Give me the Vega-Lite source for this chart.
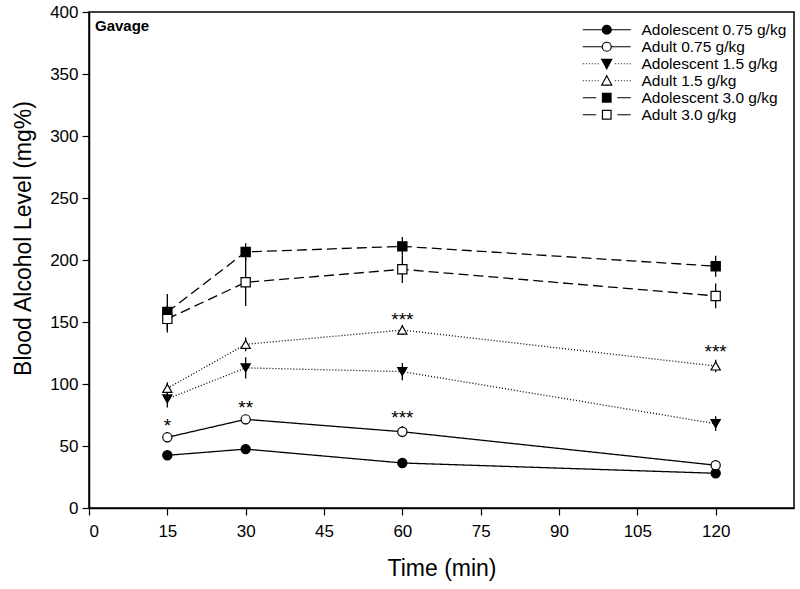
{
  "$schema": "https://vega.github.io/schema/vega-lite/v6.json",
  "width": 705,
  "height": 496,
  "autosize": {"type": "none"},
  "padding": {"left": 89, "top": 12, "right": 6, "bottom": 81},
  "background": "white",
  "config": {
    "font": "Liberation Sans",
    "view": {"stroke": "black", "strokeWidth": 1.5},
    "axis": {"grid": false, "domainColor": "black", "domainWidth": 1.5, "tickColor": "black", "tickWidth": 1.2, "tickSize": 7, "labelColor": "black", "titleColor": "black", "labelFont": "Liberation Sans", "titleFont": "Liberation Sans", "labelFontSize": 17, "titleFontSize": 23, "titleFontWeight": "normal"}
  },
  "title": {"text": "Gavage", "anchor": "start", "orient": "top", "frame": "group", "offset": -43, "dx": 6, "baseline": "alphabetic", "fontSize": 15, "fontWeight": "bold", "color": "black", "font": "Liberation Sans"},
  "datasets": {
    "bal": [
      {"series": "Adolescent 0.75 g/kg", "time": 15, "bal": 42.5, "sem": 1.2},
      {"series": "Adolescent 0.75 g/kg", "time": 30, "bal": 47.5, "sem": 1.5},
      {"series": "Adolescent 0.75 g/kg", "time": 60, "bal": 36.3, "sem": 1.5},
      {"series": "Adolescent 0.75 g/kg", "time": 120, "bal": 28, "sem": 1.2},
      {"series": "Adult 0.75 g/kg", "time": 15, "bal": 57, "sem": 4},
      {"series": "Adult 0.75 g/kg", "time": 30, "bal": 71.5, "sem": 4},
      {"series": "Adult 0.75 g/kg", "time": 60, "bal": 61.5, "sem": 4.5},
      {"series": "Adult 0.75 g/kg", "time": 120, "bal": 34.5, "sem": 1.5},
      {"series": "Adolescent 1.5 g/kg", "time": 15, "bal": 88, "sem": 7},
      {"series": "Adolescent 1.5 g/kg", "time": 30, "bal": 113, "sem": 8.5},
      {"series": "Adolescent 1.5 g/kg", "time": 60, "bal": 110, "sem": 7},
      {"series": "Adolescent 1.5 g/kg", "time": 120, "bal": 68, "sem": 6},
      {"series": "Adult 1.5 g/kg", "time": 15, "bal": 96.5, "sem": 5},
      {"series": "Adult 1.5 g/kg", "time": 30, "bal": 132, "sem": 5.5},
      {"series": "Adult 1.5 g/kg", "time": 60, "bal": 143.5, "sem": 4},
      {"series": "Adult 1.5 g/kg", "time": 120, "bal": 114.5, "sem": 5},
      {"series": "Adolescent 3.0 g/kg", "time": 15, "bal": 158, "sem": 14.5},
      {"series": "Adolescent 3.0 g/kg", "time": 30, "bal": 206.5, "sem": 7},
      {"series": "Adolescent 3.0 g/kg", "time": 60, "bal": 211, "sem": 7.5},
      {"series": "Adolescent 3.0 g/kg", "time": 120, "bal": 195, "sem": 8.5},
      {"series": "Adult 3.0 g/kg", "time": 15, "bal": 152.5, "sem": 11},
      {"series": "Adult 3.0 g/kg", "time": 30, "bal": 182, "sem": 19},
      {"series": "Adult 3.0 g/kg", "time": 60, "bal": 192.5, "sem": 11},
      {"series": "Adult 3.0 g/kg", "time": 120, "bal": 171, "sem": 10}
    ],
    "stars": [
      {"time": 15, "bal": 68.5, "label": "*"},
      {"time": 30, "bal": 83, "label": "**"},
      {"time": 60, "bal": 75, "label": "***"},
      {"time": 60, "bal": 154, "label": "***"},
      {"time": 120, "bal": 128, "label": "***"}
    ]
  },
  "layer": [
    {
      "data": {"name": "bal"},
      "mark": {"type": "line", "color": "black", "strokeWidth": 1.3},
      "encoding": {
        "x": {"field": "time", "type": "quantitative", "title": "Time (min)", "scale": {"domain": [0, 135], "nice": false}, "axis": {"values": [0, 15, 30, 45, 60, 75, 90, 105, 120], "title": "Time (min)", "titlePadding": 18, "labelPadding": 8}},
        "y": {"field": "bal", "type": "quantitative", "title": "Blood Alcohol Level (mg%)", "scale": {"domain": [0, 400], "nice": false}, "axis": {"values": [0, 50, 100, 150, 200, 250, 300, 350, 400], "title": "Blood Alcohol Level (mg%)", "titlePadding": 14, "labelPadding": 4, "titleY": 226}},
        "detail": {"field": "series"},
        "strokeDash": {"field": "series", "type": "nominal", "legend": null,
          "scale": {"domain": ["Adolescent 0.75 g/kg", "Adult 0.75 g/kg", "Adolescent 1.5 g/kg", "Adult 1.5 g/kg", "Adolescent 3.0 g/kg", "Adult 3.0 g/kg"],
                    "range": [[1, 0], [1, 0], [1, 2], [1, 2], [10, 5], [10, 5]]}}
      }
    },
    {
      "data": {"name": "bal"},
      "mark": {"type": "errorbar", "color": "black", "thickness": 1.3},
      "encoding": {
        "x": {"field": "time", "type": "quantitative", "title": "Time (min)"},
        "y": {"field": "bal", "type": "quantitative", "title": "Blood Alcohol Level (mg%)"},
        "yError": {"field": "sem"}
      }
    },
    {
      "data": {"name": "bal"},
      "mark": {"type": "point", "stroke": "black", "strokeWidth": 1.2, "size": 85, "opacity": 1},
      "encoding": {
        "x": {"field": "time", "type": "quantitative", "title": "Time (min)"},
        "y": {"field": "bal", "type": "quantitative", "title": "Blood Alcohol Level (mg%)"},
        "shape": {"field": "series", "type": "nominal", "legend": null,
          "scale": {"domain": ["Adolescent 0.75 g/kg", "Adult 0.75 g/kg", "Adolescent 1.5 g/kg", "Adult 1.5 g/kg", "Adolescent 3.0 g/kg", "Adult 3.0 g/kg"],
                    "range": ["circle", "circle", "triangle-down", "triangle-up", "square", "square"]}},
        "fill": {"field": "series", "type": "nominal", "legend": null,
          "scale": {"domain": ["Adolescent 0.75 g/kg", "Adult 0.75 g/kg", "Adolescent 1.5 g/kg", "Adult 1.5 g/kg", "Adolescent 3.0 g/kg", "Adult 3.0 g/kg"],
                    "range": ["black", "white", "black", "white", "black", "white"]}}
      }
    },
    {
      "data": {"name": "bal"},
      "transform": [{"filter": "false"}],
      "mark": {"type": "point", "filled": false, "color": "black", "strokeWidth": 1.2, "opacity": 1},
      "encoding": {
        "x": {"field": "time", "type": "quantitative", "title": "Time (min)"},
        "y": {"field": "bal", "type": "quantitative", "title": "Blood Alcohol Level (mg%)"},
        "shape": {"field": "series", "type": "nominal",
          "scale": {"domain": ["Adolescent 0.75 g/kg", "Adult 0.75 g/kg", "Adolescent 1.5 g/kg", "Adult 1.5 g/kg", "Adolescent 3.0 g/kg", "Adult 3.0 g/kg"],
                    "range": [
                      "M-3.69,0H-0.69M0.69,0H3.69M0.69,0A0.69,0.69 0 1,1 -0.69,0A0.69,0.69 0 1,1 0.69,0ZM0.52,0A0.52,0.52 0 1,1 -0.52,0A0.52,0.52 0 1,1 0.52,0ZM0.35,0A0.35,0.35 0 1,1 -0.35,0A0.35,0.35 0 1,1 0.35,0ZM0.18,0A0.18,0.18 0 1,1 -0.18,0A0.18,0.18 0 1,1 0.18,0ZM0.06,0A0.06,0.06 0 1,1 -0.06,0A0.06,0.06 0 1,1 0.06,0Z",
                      "M-3.69,0H-0.69M0.69,0H3.69M0.69,0A0.69,0.69 0 1,1 -0.69,0A0.69,0.69 0 1,1 0.69,0Z",
                      "M-3.69,0h0.15M-3.23,0h0.15M-2.77,0h0.15M-2.31,0h0.15M-1.85,0h0.15M-1.39,0h0.15M1.24,0h0.15M1.7,0h0.15M2.16,0h0.15M2.62,0h0.15M3.08,0h0.15M3.54,0h0.15M-0.77,-0.66L0.77,-0.66L0,0.77ZM-0.68,-0.49H0.68M-0.59,-0.32H0.59M-0.5,-0.15H0.5M-0.4,0.02H0.4M-0.31,0.19H0.31M-0.22,0.36H0.22M-0.13,0.53H0.13",
                      "M-3.69,0h0.15M-3.23,0h0.15M-2.77,0h0.15M-2.31,0h0.15M-1.85,0h0.15M-1.39,0h0.15M1.24,0h0.15M1.7,0h0.15M2.16,0h0.15M2.62,0h0.15M3.08,0h0.15M3.54,0h0.15M0,-0.77L0.77,0.66L-0.77,0.66Z",
                      "M-3.69,0H-1.62M1.62,0H3.69M-0.66,-0.66H0.66V0.66H-0.66ZM-0.66,-0.49H0.66M-0.66,-0.32H0.66M-0.66,-0.15H0.66M-0.66,0.02H0.66M-0.66,0.19H0.66M-0.66,0.36H0.66M-0.66,0.53H0.66",
                      "M-3.69,0H-1.62M1.62,0H3.69M-0.66,-0.66H0.66V0.66H-0.66Z"
                    ]},
          "legend": {
            "title": null, "orient": "none", "legendX": 510, "legendY": 10, "padding": 0,
            "symbolSize": 169, "symbolStrokeWidth": 1.2,
            "labelFontSize": 15.5, "labelFont": "Liberation Sans", "labelColor": "black", "labelOffset": 27, "rowPadding": 0, "labelLimit": 300
          }
        }
      }
    },
    {
      "data": {"name": "stars"},
      "mark": {"type": "text", "fontSize": 19, "baseline": "alphabetic", "dy": 9, "color": "black", "font": "Liberation Sans"},
      "encoding": {
        "x": {"field": "time", "type": "quantitative", "title": "Time (min)"},
        "y": {"field": "bal", "type": "quantitative", "title": "Blood Alcohol Level (mg%)"},
        "text": {"field": "label"}
      }
    }
  ],
  "resolve": {"scale": {"shape": "independent", "fill": "independent"}}
}
